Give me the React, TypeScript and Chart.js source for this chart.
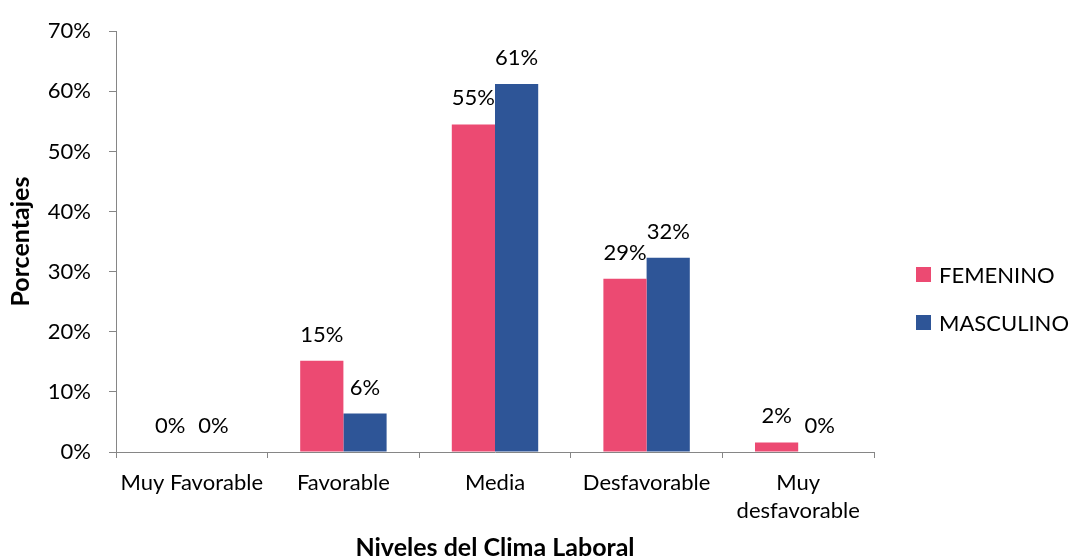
import React, { useEffect, useRef } from "react";
import { Chart, registerables } from "chart.js";

Chart.register(...registerables);

const categories: (string | string[])[] = [
  "Muy Favorable",
  "Favorable",
  "Media",
  "Desfavorable",
  ["Muy", "desfavorable"],
];
const femenino = [0, 15.2, 54.5, 28.8, 1.6];
const masculino = [0, 6.4, 61.2, 32.3, 0];
const seriesNames = ["FEMENINO", "MASCULINO"];
const seriesColors = ["#EC4A72", "#2E5597"];
const yTicks = { min: 0, max: 70, step: 10 };
const xTitle = "Niveles del Clima Laboral";
const yTitle = "Porcentajes";

const FONT = "Lato";
const FSIZE = 22;
const TSIZE = 25;

const valueLabels = {
  id: "valueLabels",
  afterDatasetsDraw(chart: any) {
    const ctx = chart.ctx;
    ctx.save();
    ctx.font = `${FSIZE}px ${FONT}`;
    ctx.fillStyle = "#000";
    ctx.textAlign = "center";
    ctx.textBaseline = "alphabetic";
    chart.data.datasets.forEach((ds: any, i: number) => {
      const meta = chart.getDatasetMeta(i);
      meta.data.forEach((el: any, j: number) => {
        const v = ds.data[j];
        ctx.fillText(Math.round(v) + "%", el.x, el.y - 19);
      });
    });
    ctx.restore();
  },
};

const sideLegend = {
  id: "sideLegend",
  afterDraw(chart: any) {
    const ctx = chart.ctx;
    ctx.save();
    ctx.font = `${FSIZE}px ${FONT}`;
    ctx.textBaseline = "middle";
    ctx.textAlign = "left";
    const x0 = chart.chartArea.right + 42;
    const yc = [274.5, 322.5];
    chart.data.datasets.forEach((ds: any, i: number) => {
      ctx.fillStyle = ds.backgroundColor;
      ctx.fillRect(x0, yc[i] - 7.5, 15, 15);
      ctx.fillStyle = "#000";
      ctx.fillText(ds.label, x0 + 23, yc[i] + 1);
    });
    ctx.restore();
  },
};

export default function App() {
  const ref = useRef<HTMLCanvasElement>(null);
  useEffect(() => {
    if (!ref.current) return;
    const chart = new Chart(ref.current, {
      type: "bar",
      data: {
        labels: categories,
        datasets: [
          {
            label: seriesNames[0],
            data: femenino,
            backgroundColor: seriesColors[0],
            categoryPercentage: 0.57,
            barPercentage: 1,
          },
          {
            label: seriesNames[1],
            data: masculino,
            backgroundColor: seriesColors[1],
            categoryPercentage: 0.57,
            barPercentage: 1,
          },
        ],
      },
      options: {
        animation: false,
        responsive: false,
        devicePixelRatio: 1,
        layout: { padding: { top: 28, right: 198, left: 0, bottom: 0 } },
        plugins: {
          legend: { display: false },
          tooltip: { enabled: false },
        },
        scales: {
          x: {
            grid: {
              display: true,
              drawOnChartArea: false,
              color: "#868686",
              tickLength: 6,
            },
            border: { color: "#868686", width: 1 },
            ticks: {
              color: "#000",
              font: { family: FONT, size: FSIZE, lineHeight: 1.27 },
              padding: 11,
              maxRotation: 0,
              autoSkip: false,
            },
            title: {
              display: true,
              text: xTitle,
              color: "#000",
              font: { family: FONT, size: TSIZE, weight: "bold" },
              padding: { top: 0, bottom: -3 },
            },
            afterFit(scale: any) {
              scale.height = 108;
            },
          },
          y: {
            min: yTicks.min,
            max: yTicks.max,
            grid: {
              display: true,
              drawOnChartArea: false,
              color: "#868686",
              tickLength: 7,
            },
            border: { color: "#868686", width: 1 },
            ticks: {
              stepSize: yTicks.step,
              color: "#000",
              font: { family: FONT, size: FSIZE },
              padding: 18,
              callback: (v: any) => v + "%",
            },
            title: {
              display: true,
              text: yTitle,
              color: "#000",
              font: { family: FONT, size: TSIZE, weight: "bold" },
              padding: { top: 6, bottom: 0 },
            },
            afterFit(scale: any) {
              scale.width = 116;
            },
          },
        },
      },
      plugins: [valueLabels, sideLegend],
    });
    return () => chart.destroy();
  }, []);
  return (
    <div style={{ position: "fixed", left: 0, top: 0, width: 1072, height: 560, background: "#fff" }}>
      <canvas ref={ref} width={1072} height={560} />
    </div>
  );
}
